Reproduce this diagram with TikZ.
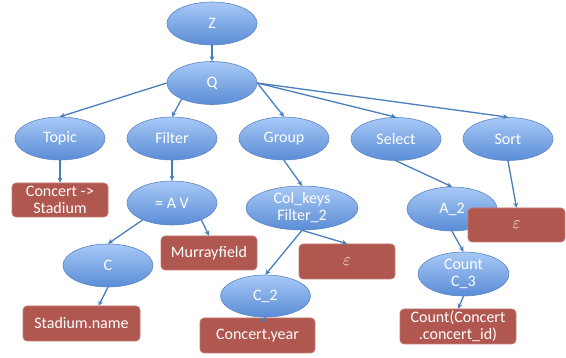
\documentclass[tikz,border=0pt]{standalone}
\usepackage{fontspec}
\setmainfont{Carlito}
\usetikzlibrary{shapes.geometric,arrows.meta}
\definecolor{ebtop}{HTML}{A8C9F6}
\definecolor{ebbot}{HTML}{5A8CD6}
\definecolor{eborder}{HTML}{5A86C4}
\definecolor{boxfill}{HTML}{B0574F}
\definecolor{boxdraw}{HTML}{C27A73}
\definecolor{edgecol}{HTML}{4A7EBB}
\tikzset{
  ell/.style={ellipse, draw=eborder, line width=0.6pt, top color=ebtop, bottom color=ebbot,
    minimum width=90pt, minimum height=43pt, inner sep=0pt, text=white, align=center,
    font=\fontsize{16}{17}\selectfont},
  rbox/.style={rectangle, rounded corners=4pt, draw=boxdraw, line width=0.6pt, fill=boxfill,
    minimum width=96pt, minimum height=34pt, inner sep=0pt, text=white, align=center,
    font=\fontsize{16}{17}\selectfont},
  edge/.style={draw=edgecol, line width=1.3pt, -{Stealth[length=5pt,width=5pt]}}
}
\begin{document}
\begin{tikzpicture}[x=1pt,y=-1pt]
\useasboundingbox (0,0) rectangle (566,358);
% ellipses
\node[ell] (Z) at (212,23.5) {Z};
\node[ell] (Q) at (212,83) {Q};
\node[ell] (Topic) at (60,138.5) {Topic};
\node[ell] (Filter) at (172,138.5) {Filter};
\node[ell] (Group) at (284,138.5) {Group};
\node[ell] (Select) at (396,139) {Select};
\node[ell] (Sort) at (508,139) {Sort};
\node[ell, minimum height=44pt] (AV) at (172,203) {= A V};
\node[ell] (C) at (108,265.5) {C};
\node[ell, minimum width=112pt, minimum height=44pt] (Col) at (302,208) {Col\_keys\\Filter\_2};
\node[ell, minimum height=42pt] (C2) at (265.5,296) {C\_2};
\node[ell, minimum height=44pt] (A2) at (452,209) {A\_2};
\node[ell, minimum width=91pt, minimum height=44pt] (C3) at (463.5,274) {Count\\C\_3};
% boxes
\node[rbox] (CS) at (60,200) {Concert -\kern0.5pt>\\Stadium};
\node[rbox] (Mur) at (209,253) {Murrayfield};
\node[rbox, minimum width=117pt, minimum height=35pt] (SN) at (81.5,323.5) {Stadium.name};
\node[rbox, minimum width=115pt, minimum height=35pt] (CY) at (257.5,335.5) {Concert.year};
\node[rbox, minimum height=35pt] (E1) at (347,261.5) {$\varepsilon$};
\node[rbox, minimum width=97pt] (E2) at (516.5,225) {$\varepsilon$};
\node[rbox, minimum width=116pt, minimum height=35pt] (CC) at (458,326.5) {Count(Concert\\.concert\_id)};
% edges
\draw[edge] (Z.south) -- (Q.north);
\draw[edge] (Q.west) -- (Topic.north);
\draw[edge] (Q.208) -- (Filter.north);
\draw[edge] (Q.east) -- (Group.north);
\draw[edge] (Q.east) -- (Select.north);
\draw[edge] (Q.east) -- (Sort.north);
\draw[edge] (Topic.south) -- (CS.north);
\draw[edge] (Filter.south) -- (AV.north);
\draw[edge] (Group.south) -- (Col.north);
\draw[edge] (Select.south) -- (A2.north);
\draw[edge] (Sort.south) -- (E2.north);
\draw[edge] (AV.210) -- (C.north);
\draw[edge] (AV.-30) -- (Mur.north);
\coordinate (SNin) at ([xshift=17pt]SN.north);
\draw[edge] (C.south) -- (SNin);
\draw[edge] (Col.south) -- (C2.north);
\draw[edge] (Col.south) -- (E1.north);
\coordinate (CYin) at ([shift={(3.5,5)}]CY.north);
\draw[edge] (C2.south) -- (CYin);
\draw[edge] (A2.south) -- (C3.north);
\draw[edge] (C3.south) -- (CC.north);
\end{tikzpicture}
\end{document}
